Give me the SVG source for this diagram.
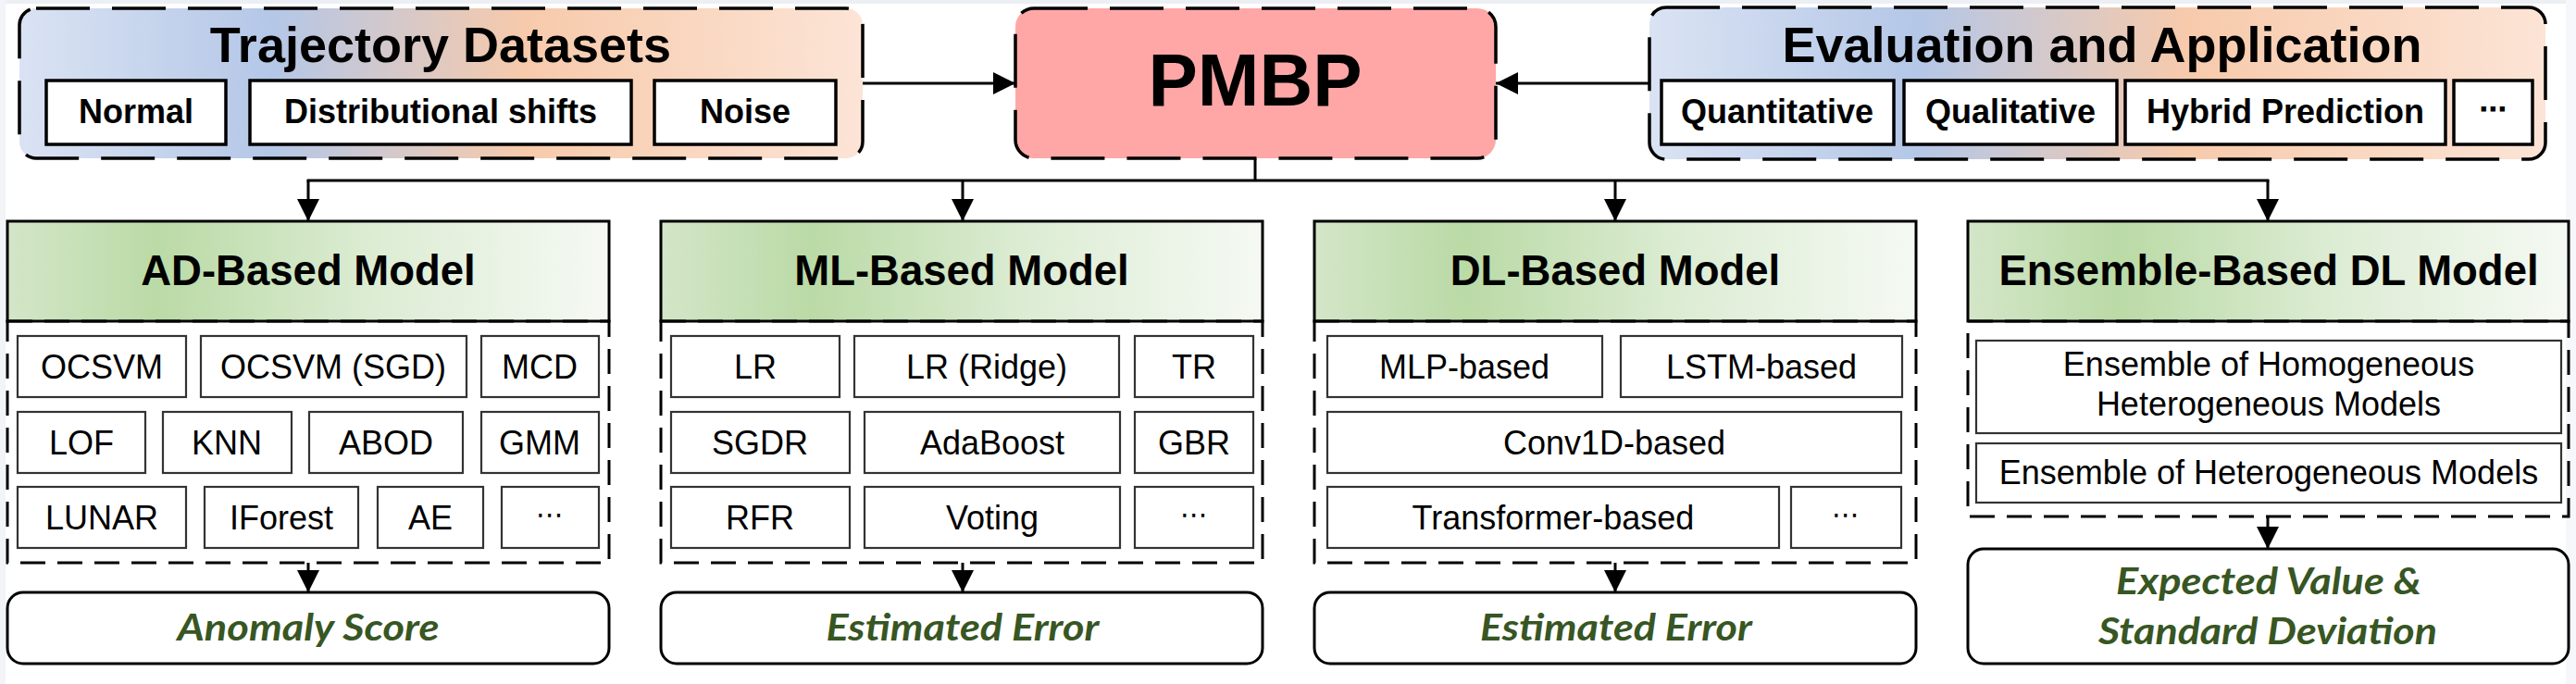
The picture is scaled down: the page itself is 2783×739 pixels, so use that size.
<svg xmlns="http://www.w3.org/2000/svg" width="2783" height="739" viewBox="0 0 2783 739">
<defs>
<linearGradient id="gTop" x1="0" y1="0" x2="1" y2="0">
<stop offset="0" stop-color="#dae3f3"/>
<stop offset="0.3" stop-color="#b4c7e7"/>
<stop offset="0.6" stop-color="#f7caab"/>
<stop offset="1" stop-color="#fce4d6"/>
</linearGradient>
<linearGradient id="gGreen" x1="0" y1="0" x2="1" y2="0">
<stop offset="0" stop-color="#d3e6c8"/>
<stop offset="0.25" stop-color="#badaa6"/>
<stop offset="0.6" stop-color="#dcecd3"/>
<stop offset="1" stop-color="#f5f9f3"/>
</linearGradient>
<marker id="ah" viewBox="0 0 24 24" refX="24" refY="12" markerWidth="24" markerHeight="24" markerUnits="userSpaceOnUse" orient="auto">
<path d="M0,0 L24,12 L0,24 z" fill="#000"/>
</marker>
<style>
.top{stroke:#000;stroke-width:3.5;stroke-dasharray:58 24}
.tin{fill:#fff;stroke:#000;stroke-width:3.5}
.ttl{font-family:"Liberation Sans",Arial,sans-serif;font-weight:bold;font-size:54px;text-anchor:middle}
.tit{font-family:"Liberation Sans",Arial,sans-serif;font-weight:bold;font-size:36px;text-anchor:middle}
.hdr{fill:url(#gGreen);stroke:#000;stroke-width:3}
.htx{font-family:"Liberation Sans",Arial,sans-serif;font-weight:bold;font-size:45.5px;text-anchor:middle}
.cont{fill:none;stroke:#000;stroke-width:3;stroke-dasharray:27 13}
.it{fill:#fff;stroke:#333;stroke-width:2.2}
.itx{font-family:"Liberation Sans",Arial,sans-serif;font-size:36px;text-anchor:middle}
.dots{font-family:"DejaVu Sans",sans-serif;font-size:30px;text-anchor:middle}
.out{fill:#fff;stroke:#000;stroke-width:3}
.otx{font-family:Lato,"Open Sans",sans-serif;font-weight:bold;font-style:italic;font-size:40px;fill:#375623;text-anchor:middle}
.con{fill:none;stroke:#000;stroke-width:3}
</style>
</defs>
<rect width="2783" height="739" fill="#fff"/>
<rect x="0" y="0" width="2783" height="4" fill="#eceff3"/>
<rect x="0" y="0" width="6" height="739" fill="#f2f4f8"/>
<rect x="2772" y="0" width="11" height="739" fill="#f5f7fa"/>

<g id="trajectory">
<rect class="top" x="21" y="9" width="911" height="162" rx="18" fill="url(#gTop)"/>
<text class="ttl" x="476" y="67">Trajectory Datasets</text>
<rect class="tin" x="50" y="87" width="194" height="69"/>
<text class="tit" x="147" y="133">Normal</text>
<rect class="tin" x="270" y="87" width="412" height="69"/>
<text class="tit" x="476" y="133">Distributional shifts</text>
<rect class="tin" x="707" y="87" width="196" height="69"/>
<text class="tit" x="805" y="133">Noise</text>
</g>

<g id="pmbp">
<rect class="top" x="1097" y="9" width="519" height="162" rx="20" fill="#ffa7a7"/>
<text x="1356" y="114" font-family="Liberation Sans, Arial, sans-serif" font-weight="bold" font-size="80" text-anchor="middle">PMBP</text>
</g>

<g id="evaluation">
<rect class="top" x="1782" y="8" width="968" height="164" rx="18" fill="url(#gTop)"/>
<text class="ttl" x="2271" y="67">Evaluation and Application</text>
<rect class="tin" x="1795" y="87" width="251" height="69"/>
<text class="tit" x="1920" y="133">Quantitative</text>
<rect class="tin" x="2057" y="87" width="230" height="69"/>
<text class="tit" x="2172" y="133">Qualitative</text>
<rect class="tin" x="2296" y="87" width="346" height="69"/>
<text class="tit" x="2469" y="133">Hybrid Prediction</text>
<rect class="tin" x="2651" y="87" width="85" height="69"/>
<text class="dots" x="2693" y="128" font-weight="bold">⋯</text>
</g>

<g id="ad-model">
<rect class="hdr" x="8" y="239" width="650" height="108"/>
<text class="htx" x="333" y="308">AD-Based Model</text>
<rect class="cont" x="8" y="347" width="650" height="261"/>
<rect class="it" x="19" y="363" width="182" height="66"/><text class="itx" x="110" y="409">OCSVM</text>
<rect class="it" x="217" y="363" width="287" height="66"/><text class="itx" x="360" y="409">OCSVM (SGD)</text>
<rect class="it" x="520" y="363" width="127" height="66"/><text class="itx" x="583" y="409">MCD</text>
<rect class="it" x="19" y="445" width="138" height="66"/><text class="itx" x="88" y="491">LOF</text>
<rect class="it" x="176" y="445" width="139" height="66"/><text class="itx" x="245" y="491">KNN</text>
<rect class="it" x="334" y="445" width="166" height="66"/><text class="itx" x="417" y="491">ABOD</text>
<rect class="it" x="520" y="445" width="127" height="66"/><text class="itx" x="583" y="491">GMM</text>
<rect class="it" x="19" y="526" width="182" height="66"/><text class="itx" x="110" y="572">LUNAR</text>
<rect class="it" x="221" y="526" width="166" height="66"/><text class="itx" x="304" y="572">IForest</text>
<rect class="it" x="408" y="526" width="114" height="66"/><text class="itx" x="465" y="572">AE</text>
<rect class="it" x="542" y="526" width="105" height="66"/><text class="dots" x="594" y="566">⋯</text>
<rect class="out" x="8" y="640" width="650" height="77" rx="17"/>
<text class="otx" x="333" y="692" textLength="283" lengthAdjust="spacingAndGlyphs">Anomaly Score</text>
</g>

<g id="ml-model">
<rect class="hdr" x="714" y="239" width="650" height="108"/>
<text class="htx" x="1039" y="308">ML-Based Model</text>
<rect class="cont" x="714" y="347" width="650" height="261"/>
<rect class="it" x="725" y="363" width="182" height="66"/><text class="itx" x="816" y="409">LR</text>
<rect class="it" x="923" y="363" width="286" height="66"/><text class="itx" x="1066" y="409">LR (Ridge)</text>
<rect class="it" x="1226" y="363" width="128" height="66"/><text class="itx" x="1290" y="409">TR</text>
<rect class="it" x="725" y="445" width="193" height="66"/><text class="itx" x="821" y="491">SGDR</text>
<rect class="it" x="934" y="445" width="276" height="66"/><text class="itx" x="1072" y="491">AdaBoost</text>
<rect class="it" x="1226" y="445" width="128" height="66"/><text class="itx" x="1290" y="491">GBR</text>
<rect class="it" x="725" y="526" width="193" height="66"/><text class="itx" x="821" y="572">RFR</text>
<rect class="it" x="934" y="526" width="276" height="66"/><text class="itx" x="1072" y="572">Voting</text>
<rect class="it" x="1226" y="526" width="128" height="66"/><text class="dots" x="1290" y="566">⋯</text>
<rect class="out" x="714" y="640" width="650" height="77" rx="17"/>
<text class="otx" x="1040" y="692" textLength="295" lengthAdjust="spacingAndGlyphs">Estimated Error</text>
</g>

<g id="dl-model">
<rect class="hdr" x="1420" y="239" width="650" height="108"/>
<text class="htx" x="1745" y="308">DL-Based Model</text>
<rect class="cont" x="1420" y="347" width="650" height="261"/>
<rect class="it" x="1434" y="363" width="297" height="66"/><text class="itx" x="1582" y="409">MLP-based</text>
<rect class="it" x="1751" y="363" width="304" height="66"/><text class="itx" x="1903" y="409">LSTM-based</text>
<rect class="it" x="1434" y="445" width="620" height="66"/><text class="itx" x="1744" y="491">Conv1D-based</text>
<rect class="it" x="1434" y="526" width="488" height="66"/><text class="itx" x="1678" y="572">Transformer-based</text>
<rect class="it" x="1935" y="526" width="119" height="66"/><text class="dots" x="1994" y="566">⋯</text>
<rect class="out" x="1420" y="640" width="650" height="77" rx="17"/>
<text class="otx" x="1746" y="692" textLength="294" lengthAdjust="spacingAndGlyphs">Estimated Error</text>
</g>

<g id="ensemble-model">
<rect class="hdr" x="2126" y="239" width="649" height="108"/>
<text class="htx" x="2451" y="308">Ensemble-Based DL Model</text>
<rect class="cont" x="2126" y="347" width="649" height="211"/>
<rect class="it" x="2135" y="368" width="632" height="100"/>
<text class="itx" x="2451" y="406">Ensemble of Homogeneous</text>
<text class="itx" x="2451" y="449">Heterogeneous Models</text>
<rect class="it" x="2135" y="479" width="632" height="64"/>
<text class="itx" x="2451" y="523">Ensemble of Heterogeneous Models</text>
<rect class="out" x="2126" y="593" width="649" height="124" rx="17"/>
<text class="otx" x="2451" y="642" textLength="330" lengthAdjust="spacingAndGlyphs">Expected Value &amp;</text>
<text class="otx" x="2450" y="696" textLength="366" lengthAdjust="spacingAndGlyphs">Standard Deviation</text>
</g>

<g id="connectors">
<line class="con" x1="932" y1="90" x2="1097" y2="90" marker-end="url(#ah)"/>
<line class="con" x1="1782" y1="90" x2="1616" y2="90" marker-end="url(#ah)"/>
<line class="con" x1="1356" y1="171" x2="1356" y2="195"/>
<line class="con" x1="331.5" y1="195" x2="2451.5" y2="195"/>
<line class="con" x1="333" y1="195" x2="333" y2="239" marker-end="url(#ah)"/>
<line class="con" x1="1040" y1="195" x2="1040" y2="239" marker-end="url(#ah)"/>
<line class="con" x1="1745" y1="195" x2="1745" y2="239" marker-end="url(#ah)"/>
<line class="con" x1="2450" y1="195" x2="2450" y2="239" marker-end="url(#ah)"/>
<line class="con" x1="333" y1="608" x2="333" y2="640" marker-end="url(#ah)"/>
<line class="con" x1="1040" y1="608" x2="1040" y2="640" marker-end="url(#ah)"/>
<line class="con" x1="1745" y1="608" x2="1745" y2="640" marker-end="url(#ah)"/>
<line class="con" x1="2450" y1="558" x2="2450" y2="593" marker-end="url(#ah)"/>
</g>
</svg>
